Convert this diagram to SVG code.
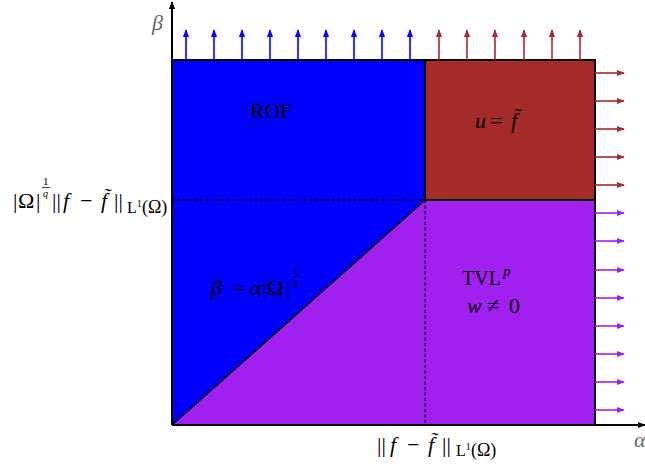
<svg xmlns="http://www.w3.org/2000/svg" width="645" height="469" viewBox="0 0 645 469">
<style>
text{font-family:"Liberation Serif","DejaVu Serif",serif;fill:#000}
.m{font-size:22px}
.i{font-style:italic}
.s{font-size:11px}
.q{font-size:10px;font-style:italic}
.sub{font-size:16px}
.sup{font-size:10px}
.par{font-size:18px}
.blue{stroke:#0000ff;stroke-width:1.6;fill:none}
.brown{stroke:#a52a2a;stroke-width:1.6;fill:none}
.purp{stroke:#a020f0;stroke-width:1.6;fill:none}
.bar{stroke:#000;stroke-width:0.8}
</style>
<defs>
<marker id="hb" viewBox="0 0 10 10" refX="9" refY="5" markerWidth="5" markerHeight="5" orient="auto"><path d="M0,1 L10,5 L0,9 z" fill="#0000ff"/></marker>
<marker id="hr" viewBox="0 0 10 10" refX="9" refY="5" markerWidth="5" markerHeight="5" orient="auto"><path d="M0,1 L10,5 L0,9 z" fill="#a52a2a"/></marker>
<marker id="hp" viewBox="0 0 10 10" refX="9" refY="5" markerWidth="5" markerHeight="5" orient="auto"><path d="M0,1 L10,5 L0,9 z" fill="#a020f0"/></marker>
<marker id="hk" viewBox="0 0 10 10" refX="9" refY="5" markerWidth="4" markerHeight="4" orient="auto"><path d="M0,1 L10,5 L0,9 z" fill="#000"/></marker>
</defs>
<g id="regions">
<g id="rof"><polygon points="172,60 425,60 425,200 172,425" fill="#0000ff"/></g>
<g id="uf"><polygon points="425,60 595,60 595,200 425,200" fill="#a52a2a"/></g>
<g id="tvl"><polygon points="425,200 595,200 595,425 172,425" fill="#a020f0"/></g>
<polyline points="172,60 595,60 595,425" fill="none" stroke="#000" stroke-width="2"/>
<line x1="425" y1="60" x2="425" y2="200" stroke="#000" stroke-width="2"/>
<line x1="425" y1="200" x2="595" y2="200" stroke="#000" stroke-width="2"/>
<line x1="172" y1="425" x2="425" y2="200" stroke="#000" stroke-width="1.5"/>
</g>
<g id="connectors">
<line x1="172" y1="200" x2="425" y2="200" stroke="#000" stroke-width="1.3" stroke-dasharray="3,2.5"/>
<line x1="425" y1="200" x2="425" y2="425" stroke="#000" stroke-width="1.3" stroke-dasharray="3,2.5"/>
<g class="blue" marker-end="url(#hb)">
<line x1="186" y1="60" x2="186" y2="30"/><line x1="214" y1="60" x2="214" y2="30"/><line x1="242" y1="60" x2="242" y2="30"/><line x1="270" y1="60" x2="270" y2="30"/><line x1="298" y1="60" x2="298" y2="30"/><line x1="326" y1="60" x2="326" y2="30"/><line x1="354" y1="60" x2="354" y2="30"/><line x1="382" y1="60" x2="382" y2="30"/><line x1="410" y1="60" x2="410" y2="30"/>
</g>
<g class="brown" marker-end="url(#hr)">
<line x1="439" y1="60" x2="439" y2="30"/><line x1="467" y1="60" x2="467" y2="30"/><line x1="495" y1="60" x2="495" y2="30"/><line x1="524" y1="60" x2="524" y2="30"/><line x1="552" y1="60" x2="552" y2="30"/><line x1="580" y1="60" x2="580" y2="30"/>
<line x1="595" y1="73" x2="624" y2="73"/><line x1="595" y1="101" x2="624" y2="101"/><line x1="595" y1="129" x2="624" y2="129"/><line x1="595" y1="157" x2="624" y2="157"/><line x1="595" y1="185" x2="624" y2="185"/>
</g>
<g class="purp" marker-end="url(#hp)">
<line x1="595" y1="213" x2="624" y2="213"/><line x1="595" y1="241" x2="624" y2="241"/><line x1="595" y1="270" x2="624" y2="270"/><line x1="595" y1="298" x2="624" y2="298"/><line x1="595" y1="326" x2="624" y2="326"/><line x1="595" y1="354" x2="624" y2="354"/><line x1="595" y1="382" x2="624" y2="382"/><line x1="595" y1="410" x2="624" y2="410"/>
</g>
<line x1="172" y1="425" x2="172" y2="2" stroke="#000" stroke-width="2" marker-end="url(#hk)"/>
<line x1="172" y1="425" x2="645" y2="425" stroke="#000" stroke-width="2" marker-end="url(#hk)"/>
</g>
<g id="labels">
<text x="152" y="30" class="i" font-size="22" style="fill:#666">β</text>
<text x="634" y="447" class="i" font-size="22" style="fill:#666">α</text>
<text x="250" y="118" class="m" textLength="42" lengthAdjust="spacingAndGlyphs">ROF</text>
<text y="128" class="m"><tspan x="475" class="i">u</tspan><tspan x="490">=</tspan><tspan x="511" class="i">f̃</tspan></text>
<text x="462" y="285" font-size="20">TVL</text>
<text x="503" y="276" class="i" font-size="15">p</text>
<text y="313" class="m"><tspan x="467" class="i">w</tspan><tspan x="487">≠</tspan><tspan x="509">0</tspan></text>
<g id="eq">
<text y="295" class="m"><tspan x="211" class="i">β</tspan><tspan x="232">=</tspan><tspan x="250" class="i">α</tspan><tspan x="262">|</tspan><tspan x="267">Ω</tspan><tspan x="286">|</tspan></text>
<text x="293" y="274" class="s">1</text>
<line class="bar" x1="292" y1="276.7" x2="300" y2="276.7"/>
<text x="293" y="286" class="q">q</text>
</g>
<g id="leftlabel">
<text y="208" class="m"><tspan x="13">|</tspan><tspan x="18">Ω</tspan><tspan x="36">|</tspan></text>
<text x="43" y="185" class="s">1</text>
<line class="bar" x1="42" y1="187.6" x2="50" y2="187.6"/>
<text x="43" y="197" class="q">q</text>
<text y="208" class="m"><tspan x="52">||</tspan><tspan x="63" class="i">f</tspan><tspan x="80">−</tspan><tspan x="101" class="i">f̃</tspan><tspan x="114">||</tspan></text>
<text x="127" y="213" class="sub">L<tspan class="sup" dy="-6">1</tspan><tspan class="par" dy="6" x="142">(Ω)</tspan></text>
</g>
<g id="bottomlabel">
<text y="452" class="m"><tspan x="377">||</tspan><tspan x="390" class="i">f</tspan><tspan x="407">−</tspan><tspan x="428" class="i">f̃</tspan><tspan x="442">||</tspan></text>
<text x="456" y="456" class="sub">L<tspan class="sup" dy="-6">1</tspan><tspan class="par" dy="6" x="471">(Ω)</tspan></text>
</g>
</g>
</svg>
